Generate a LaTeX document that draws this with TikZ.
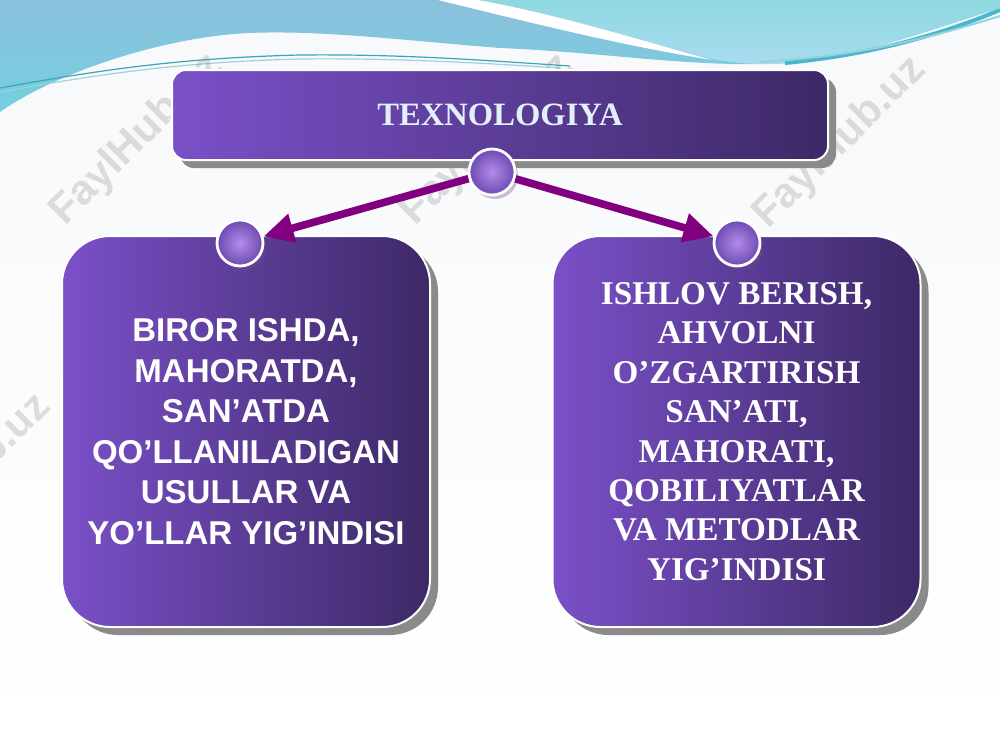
\documentclass[tikz,border=0pt]{standalone}
\usepackage{fontspec}
\setmainfont{Liberation Serif}
\newfontfamily\arialf{Liberation Sans}
\usetikzlibrary{arrows.meta,shadows}
\definecolor{bgc}{HTML}{F8F9FA}
\definecolor{tealtop}{HTML}{8CC0DC}
\definecolor{tealbot}{HTML}{72D0E0}
\definecolor{cyantop}{HTML}{8ED8E0}
\definecolor{cyanbot}{HTML}{A8DCEE}
\definecolor{streak}{HTML}{4AB6CE}
\definecolor{thinl}{HTML}{3AA6B6}
\definecolor{boxL}{HTML}{7A50C8}
\definecolor{boxR}{HTML}{3D2966}
\definecolor{shadowg}{HTML}{8A8A8A}
\definecolor{ballin}{HTML}{B48CE8}
\definecolor{ballout}{HTML}{6C4AB2}
\definecolor{arrowc}{HTML}{800080}
\definecolor{titlec}{HTML}{E2F0FA}
\tikzset{
  boxbase/.style={rectangle, left color=boxL, right color=boxR, draw=white, line width=1pt,
    drop shadow={shadow xshift=4pt, shadow yshift=-4pt, fill=shadowg, opacity=1}},
  topbox/.style={boxbase, rounded corners=7pt, minimum width=328pt, minimum height=45pt,
    font=\bfseries\fontsize{16.3}{20}\selectfont, text=titlec},
  bigbox/.style={boxbase, rounded corners=24pt, minimum width=184pt, minimum height=195.5pt,
    align=center, text=white},
  sanstext/.style={font=\arialf\bfseries\fontsize{16.5}{20.25}\selectfont},
  seriftext/.style={font=\bfseries\fontsize{16.6}{19.7}\selectfont},
  ball/.style={circle, minimum size=23pt, inner sep=0pt, inner color=ballin, outer color=ballout,
    draw=white, line width=1.4pt,
    drop shadow={shadow xshift=1.5pt, shadow yshift=-2pt, fill=gray!60!violet, opacity=0.35}},
  conn/.style={draw=arrowc, line width=3.8pt, -{Triangle[length=15pt,width=14pt]}},
  wm/.style={font=\arialf\bfseries\fontsize{21}{24}\selectfont, text=gray, opacity=0.25, rotate=45}
}
\begin{document}
\begin{tikzpicture}[x=0.5pt,y=-0.5pt]
\useasboundingbox (0,0) rectangle (1000,750);
\clip (0,0) rectangle (1000,750);
% background
\fill[bgc] (0,0) rectangle (1000,750);
\shade[top color=bgc, bottom color=white] (0,100) rectangle (1000,750);
% top waves
\shade[top color=tealtop, bottom color=tealbot]
  (0,0) -- (1000,0) -- (1000,8)
  .. controls (900,40) and (840,62) .. (770,64)
  .. controls (680,66) and (600,52) .. (500,48)
  .. controls (400,40) and (320,30) .. (250,33)
  .. controls (170,36) and (60,70) .. (0,112) -- cycle;
\shade[top color=cyantop, bottom color=cyanbot]
  (478,0) -- (1000,0) -- (1000,8)
  .. controls (900,40) and (840,62) .. (770,64)
  .. controls (745,64) and (725,62) .. (708,58)
  .. controls (640,40) and (560,15) .. (478,0) -- cycle;
\fill[white]
  (438,0) -- (478,0)
  .. controls (560,15) and (640,40) .. (712,60)
  .. controls (620,45) and (540,25) .. (438,0) -- cycle;
\draw[streak, line width=2pt] (785,63) .. controls (870,55) and (940,35) .. (1000,10);
\draw[streak!60, line width=1pt] (760,62) .. controls (860,56) and (930,38) .. (1000,16);
\draw[thinl, line width=0.6pt] (0,88) .. controls (100,70) and (180,58) .. (300,55)
  .. controls (400,54) and (480,60) .. (570,66);
\draw[thinl!50, line width=0.6pt] (0,92) .. controls (100,74) and (180,62) .. (300,59)
  .. controls (400,58) and (480,63) .. (560,68);
% watermarks (behind the boxes)
\node[wm] (w1) at (137,140) {FaylHub.uz};
\node[wm] (w2) at (487,140) {FaylHub.uz};
\node[wm] (w3) at (840,143) {FaylHub.uz};
\node[wm] (w4) at (-35,480) {FaylHub.uz};
\node[wm] (w5) at (315,480) {FaylHub.uz};
\node[wm] (w6) at (665,480) {FaylHub.uz};
% boxes
\node[topbox] (top) at (500,115) {TEXNOLOGIYA};
\node[bigbox, sanstext] (left) at (246,431.5) {BIROR ISHDA,\\MAHORATDA,\\SAN’ATDA\\QO’LLANILADIGAN\\USULLAR VA\\YO’LLAR YIG’INDISI};
\node[bigbox, seriftext] (right) at (736.5,431.5) {ISHLOV BERISH,\\AHVOLNI\\O’ZGARTIRISH\\SAN’ATI,\\MAHORATI,\\QOBILIYATLAR\\VA METODLAR\\YIG’INDISI};
% balls
\node[ball] (c0) at (492,172) {};
\node[ball] (c1) at (240,243) {};
\node[ball] (c2) at (737,243) {};
% connectors
\draw[conn] (c0) -- (c1);
\draw[conn] (c0) -- (c2);
\end{tikzpicture}
\end{document}
